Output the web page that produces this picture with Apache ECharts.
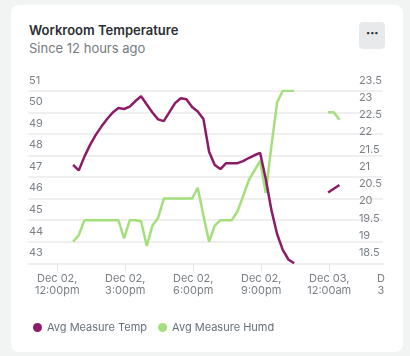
<!DOCTYPE html>
<html>
<head>
<meta charset="utf-8">
<script src="https://cdn.jsdelivr.net/npm/echarts@6/dist/echarts.min.js"></script>
<style>
  html, body { margin: 0; padding: 0; width: 410px; height: 356px; overflow: hidden; background: #f2f3f3; font-family: Inter, "Noto Sans", sans-serif; }
  #card { position: absolute; left: 11px; top: 5px; width: 392px; height: 347px; background: #fff; border-radius: 8px; }
  #title { position: absolute; left: 29px; top: 23.5px; font-size: 13px; line-height: 13px; font-weight: 600; color: #2b2f33; white-space: nowrap; }
  #sub { position: absolute; left: 29px; top: 41.5px; font-size: 13px; line-height: 13px; color: #747a80; white-space: nowrap; }
  #menu { position: absolute; left: 359px; top: 22px; width: 26px; height: 27px; background: #e8e9eb; border-radius: 4px; color: #2b2f33; font-size: 14px; font-weight: 700; text-align: center; line-height: 22px; letter-spacing: -0.5px; }
  #chart { position: absolute; left: 0; top: 0; width: 385px; height: 356px; }
</style>
</head>
<body>
<div id="card"></div>
<div id="title">Workroom Temperature</div>
<div id="sub">Since 12 hours ago</div>
<div id="menu">···</div>
<div id="chart"></div>
<script>
// ---- data ----
const seriesNames = ['Avg Measure Temp', 'Avg Measure Humd'];
const startTime = '2023-12-02T12:42';   // first sample
const stepMinutes = 15;                  // sampling interval
// Avg Measure Temp (right axis)
const tempValues = [
  21.35, 21.19, 21.59, 21.93, 22.22, 22.46, 22.68, 22.87, 23.0, 22.97,
  23.04, 23.2, 23.34, 23.1, 22.87, 22.67, 22.62, 22.88, 23.14, 23.28,
  23.25, 23.03, 22.9, 22.68, 21.73, 21.35, 21.23, 21.4, 21.4, 21.4,
  21.46, 21.55, 21.63, 21.7, 20.94, 20.04, 19.35, 18.89, 18.61, 18.5,
  null, null, null, null, null, 20.55, 20.66, 20.77
];
// Avg Measure Humd (left axis)
const humdValues = [
  44.0, 44.3, 45.0, 45.0, 45.0, 45.0, 45.0, 45.0, 45.0, 44.15,
  45.0, 45.0, 44.95, 43.8, 44.75, 45.1, 46.0, 46.0, 46.0, 46.0,
  46.0, 46.0, 46.5, 45.2, 44.0, 44.75, 45.0, 45.0, 45.0, 45.4,
  46.1, 46.85, 47.3, 47.75, 46.25, 48.45, 50.45, 51.0, 51.0, 51.0,
  null, null, null, null, null, 50.0, 50.0, 49.65
];
const tickTimes = ['2023-12-02T12:00', '2023-12-02T15:00', '2023-12-02T18:00', '2023-12-02T21:00', '2023-12-03T00:00'];
const extraTickTime = '2023-12-03T03:00';
const xRange = ['2023-12-02T10:44', '2023-12-03T02:22'];
const leftAxis = { min: 43, max: 51, interval: 1 };
const rightAxis = { min: 18.5, max: 23.5, interval: 0.5 };

// ---- build ----
const t0 = new Date(startTime).getTime();
const times = tempValues.map((_, i) => t0 + i * stepMinutes * 60000);
const tempData = times.map((t, i) => [t, tempValues[i]]);
const humdData = times.map((t, i) => [t, humdValues[i]]);
const tickVals = tickTimes.map(s => new Date(s).getTime());

const MON = ['Jan','Feb','Mar','Apr','May','Jun','Jul','Aug','Sep','Oct','Nov','Dec'];
function fmt(v) {
  const d = new Date(v);
  const dd = String(d.getDate()).padStart(2, '0');
  let h = d.getHours();
  const ap = h < 12 ? 'am' : 'pm';
  h = h % 12; if (h === 0) h = 12;
  const mm = String(d.getMinutes()).padStart(2, '0');
  return MON[d.getMonth()] + ' ' + dd + ',\n' + h + ':' + mm + ap;
}

const labelColor = '#7a7f86';
const gridColor = '#efefef';
const FONT = 'Inter, "Noto Sans", sans-serif';

const chart = echarts.init(document.getElementById('chart'), null, { renderer: 'canvas' });
chart.setOption({
  animation: false,
  textStyle: { fontFamily: FONT },
  color: ['#8c1b68', '#a5df7c'],
  grid: { left: 28.5, right: 0, top: 90.7, bottom: 92.7, containLabel: false },
  legend: {
    data: seriesNames,
    left: 28, top: 317,
    icon: 'circle', itemWidth: 9, itemHeight: 9, itemGap: 11,
    textStyle: { color: '#66707c', fontSize: 11, fontFamily: FONT }
  },
  xAxis: {
    type: 'value',
    min: new Date(xRange[0]).getTime(),
    max: new Date(xRange[1]).getTime(),
    axisLine: { show: true, lineStyle: { color: gridColor, width: 2 } },
    axisTick: { show: true, customValues: tickVals, length: 8, lineStyle: { color: '#e6e6e6', width: 1 } },
    axisLabel: { customValues: tickVals, formatter: fmt, color: labelColor, fontSize: 11, lineHeight: 11.5, margin: 10, fontFamily: FONT },
    splitLine: { show: false }
  },
  yAxis: [
    {
      type: 'value', position: 'left',
      min: leftAxis.min, max: leftAxis.max, interval: leftAxis.interval,
      axisLine: { show: false }, axisTick: { show: false },
      axisLabel: { inside: true, margin: 0.5, align: 'left', verticalAlign: 'bottom', padding: [0, 0, 5, 0], color: labelColor, fontSize: 11, fontFamily: FONT },
      splitLine: { show: true, lineStyle: { color: gridColor, width: 2 } }
    },
    {
      type: 'value', position: 'right',
      min: rightAxis.min, max: rightAxis.max, interval: rightAxis.interval,
      axisLine: { show: false }, axisTick: { show: false },
      axisLabel: { inside: true, margin: 24, align: 'left', verticalAlign: 'bottom', padding: [0, 0, 5, 0], color: labelColor, fontSize: 11, fontFamily: FONT,
        formatter: v => String(v) },
      splitLine: { show: false }
    }
  ],
  series: [
    { name: seriesNames[0], type: 'line', yAxisIndex: 1, data: tempData, showSymbol: false, connectNulls: false, z: 4,
      lineStyle: { width: 2.5 } },
    { name: seriesNames[1], type: 'line', yAxisIndex: 0, data: humdData, showSymbol: false, connectNulls: false, z: 3,
      lineStyle: { width: 2.5 } }
  ]
});

// tick label beyond the axis end (clipped by the chart edge)
const extraT = new Date(extraTickTime).getTime();
const px = chart.convertToPixel({ xAxisIndex: 0 }, extraT);
const py = chart.convertToPixel({ yAxisIndex: 0 }, leftAxis.min);
chart.setOption({
  graphic: [{
    type: 'text', x: px, y: py + 10,
    style: { text: fmt(extraT), fill: labelColor, font: '11px ' + FONT, align: 'center', verticalAlign: 'top', lineHeight: 11.5 }
  }]
});
</script>
</body>
</html>
